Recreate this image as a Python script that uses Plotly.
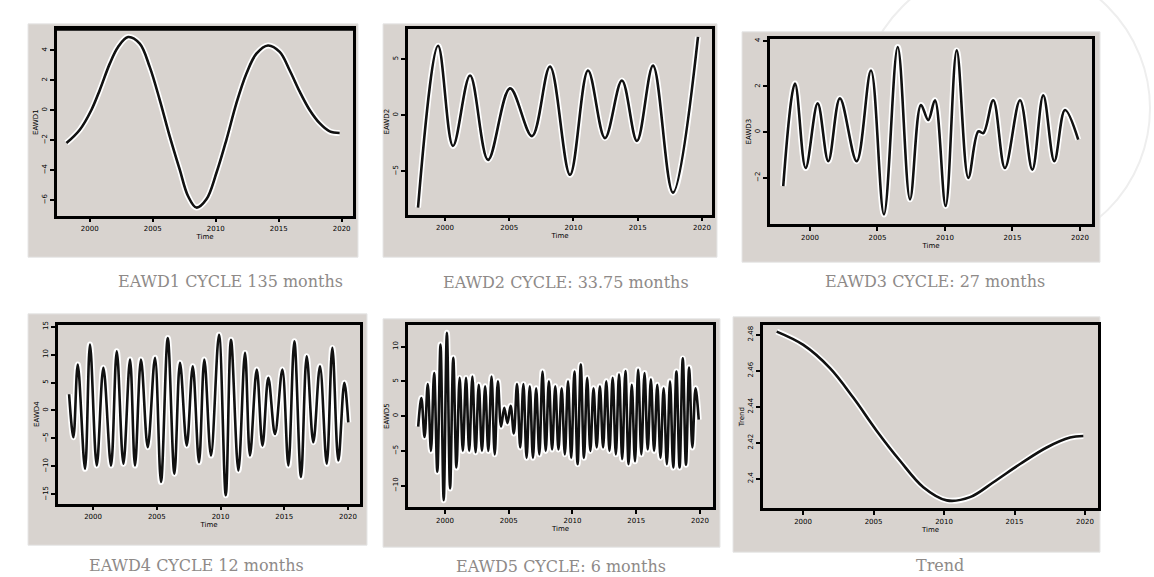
import plotly.graph_objects as go

# ---------------- data ----------------
x_ticks = [2000, 2005, 2010, 2015, 2020]
x_tick_text = ["2000", "2005", "2010", "2015", "2020"]

# EAWD1 : 135-month cycle
eawd1_t = [1998.15, 1999.21, 2000.13, 2000.79, 2001.59, 2002.25, 2003.04, 2003.97,
           2004.76, 2005.56, 2006.35, 2007.14, 2007.80, 2008.47, 2009.26, 2010.06,
           2010.85, 2011.64, 2012.44, 2013.23, 2014.15, 2015.08, 2015.87, 2016.67,
           2017.46, 2018.25, 2019.05, 2019.84]
eawd1_v = [-2.19, -1.30, 0.02, 1.34, 3.11, 4.22, 4.88, 4.44,
           2.89, 0.68, -1.74, -3.95, -5.72, -6.49, -5.94, -4.17,
           -1.97, 0.46, 2.45, 3.77, 4.32, 3.89, 2.67, 1.24,
           0.02, -0.86, -1.41, -1.52]

# EAWD2 : 33.75-month cycle
eawd2_t = [1997.90, 1999.46, 2000.62, 2001.95, 2003.35, 2005.06, 2006.77, 2008.17,
           2009.73, 2011.13, 2012.45, 2013.77, 2014.94, 2016.19, 2017.74, 2019.69]
eawd2_v = [-8.23, 6.19, -2.74, 3.54, -3.98, 2.39, -1.86, 4.34,
           -5.31, 3.98, -2.04, 3.10, -2.30, 4.42, -6.90, 6.99]

# EAWD3 : 27-month cycle
eawd3_t = [1998.02, 1998.89, 1999.68, 2000.57, 2001.36, 2002.22, 2003.46, 2004.52,
           2005.48, 2006.50, 2007.41, 2008.22, 2008.76, 2009.26, 2010.05, 2010.87,
           2011.73, 2012.47, 2012.84, 2013.58, 2014.44, 2015.56, 2016.47, 2017.28,
           2018.10, 2018.89, 2019.87]
eawd3_v = [-2.36, 2.13, -1.57, 1.26, -1.27, 1.48, -1.27, 2.70,
           -3.60, 3.73, -2.94, 1.19, 0.53, 1.40, -3.23, 3.58,
           -2.00, 0.03, -0.04, 1.40, -1.57, 1.40, -1.64, 1.62,
           -1.27, 0.97, -0.33]

# EAWD4 : 12-month cycle
eawd4_t = [1998.12, 1998.46, 1998.80, 1999.37, 1999.76, 2000.29, 2000.81, 2001.41,
           2001.86, 2002.38, 2002.90, 2003.29, 2003.76, 2004.29, 2004.86, 2005.33,
           2005.86, 2006.38, 2006.82, 2007.35, 2007.82, 2008.31, 2008.73, 2009.25,
           2009.88, 2010.41, 2010.82, 2011.40, 2011.92, 2012.31, 2012.84, 2013.29,
           2013.75, 2014.27, 2014.85, 2015.32, 2015.79, 2016.31, 2016.76, 2017.28,
           2017.80, 2018.33, 2018.77, 2019.24, 2019.71, 2020.02]
eawd4_v = [2.90, -4.80, 8.22, -10.43, 11.78, -9.84, 7.64, -9.84,
           10.59, -9.54, 9.11, -9.84, 9.11, -6.57, 9.41, -12.79,
           12.97, -11.31, 8.53, -6.28, 7.92, -9.24, 9.11, -8.06,
           13.55, -15.17, 12.66, -10.73, 10.30, -8.06, 7.34, -6.28,
           5.86, -4.21, 7.34, -9.84, 12.36, -11.90, 9.70, -5.68,
           7.92, -9.54, 11.19, -8.95, 4.97, -2.13]

# EAWD5 : 6-month cycle (turning points, one every quarter year from 1997.9)
eawd5_start = 1997.9
eawd5_step = 0.25
eawd5_v = [-1.5, 2.6, -3.0, 4.6, -5.0, 6.2, -8.0, 10.3, -12.1, 12.0,
           -10.4, 8.4, -7.4, 5.5, -5.0, 5.5, -5.0, 5.7, -5.2, 4.5,
           -5.0, 4.3, -5.0, 5.7, -5.5, 5.0, -1.5, 1.2, -1.0, 1.5,
           -2.5, 4.6, -4.5, 4.6, -6.0, 4.3, -6.0, 4.0, -5.5, 6.4,
           -5.0, 5.0, -4.8, 4.3, -4.8, 4.0, -5.5, 5.0, -6.0, 6.4,
           -6.9, 7.4, -6.0, 5.5, -5.0, 4.0, -4.5, 4.3, -4.5, 5.0,
           -5.0, 5.5, -5.5, 6.0, -6.2, 6.5, -6.9, 4.5, -6.5, 6.7,
           -5.5, 6.2, -4.8, 5.3, -5.0, 4.5, -6.0, 4.0, -6.9, 5.0,
           -7.4, 6.4, -7.4, 8.3, -7.0, 7.0, -4.5, 4.0, -0.5]
eawd5_t = [eawd5_start + eawd5_step * k for k in range(len(eawd5_v))]

# Trend
trend_t = [1998.13, 2000.02, 2001.91, 2003.57, 2005.23, 2006.88, 2008.53,
           2010.19, 2011.84, 2013.50, 2015.39, 2017.28, 2018.94, 2019.88]
trend_v = [2.4817, 2.4743, 2.4614, 2.4449, 2.4265, 2.4099, 2.3952,
           2.3879, 2.3897, 2.3980, 2.4081, 2.4173, 2.4228, 2.4237]

y_titles = ["EAWD1", "EAWD2", "EAWD3", "EAWD4", "EAWD5", "Trend"]
captions = ["EAWD1 CYCLE 135 months", "EAWD2 CYCLE: 33.75 months", "EAWD3 CYCLE: 27 months",
            "EAWD4 CYCLE 12 months", "EAWD5 CYCLE: 6 months", "Trend"]
y_ticks = [[4, 2, 0, -2, -4, -6], [5, 0, -5], [4, 2, 0, -2],
           [15, 10, 5, 0, -5, -10, -15], [10, 5, 0, -5, -10],
           [2.48, 2.46, 2.44, 2.42, 2.40]]

series = [(eawd1_t, eawd1_v), (eawd2_t, eawd2_v), (eawd3_t, eawd3_v),
          (eawd4_t, eawd4_v), (eawd5_t, eawd5_v), (trend_t, trend_v)]

# ---------------- layout (pixel geometry) ----------------
W, H = 1154, 577
GRAY = "#d8d3cf"

# inner plot boxes: (left, right, top, bottom) in pixels
inner = [(57, 353, 25, 213), (408, 712, 25, 212), (770, 1092, 35, 222),
         (58, 360, 323, 503), (408, 713, 323, 507), (763, 1098, 323, 508)]
# outer gray boxes
outer = [(28, 358, 20, 255), (383, 717, 20, 255), (742, 1100, 28, 260),
         (28, 367, 312, 545), (383, 720, 317, 547), (733, 1100, 315, 552)]
x_ranges = [[1997.4, 2020.9], [1997.12, 2020.78], [1997.04, 2020.89],
            [1997.25, 2020.94], [1997.10, 2021.02], [1997.16, 2020.92]]
y_ranges = [[-7.02, 5.43], [-8.85, 7.70], [-4.04, 4.09],
            [-16.64, 15.33], [-13.14, 13.14], [2.3834, 2.4855]]
caption_pos = [(230, 279), (566, 280), (935, 279), (196, 565), (561, 566), (940, 565)]


def px_dom_x(a, b):
    return [a / W, b / W]


def px_dom_y(top, bottom):
    return [1 - bottom / H, 1 - top / H]


fig = go.Figure()
layout = dict(width=W, height=H, margin=dict(l=0, r=0, t=0, b=0),
              paper_bgcolor="white", plot_bgcolor=GRAY, showlegend=False)
shapes = []
annotations = []

# faint watermark arcs in the background
shapes.append(dict(type="circle", xref="paper", yref="paper", layer="below",
                   x0=860 / W, x1=1150 / W, y0=1 - 250 / H, y1=1 - (-40) / H,
                   line=dict(color="#eeeeee", width=2)))

for i, (xs, ys) in enumerate(series):
    sfx = "" if i == 0 else str(i + 1)
    fig.add_trace(go.Scatter(x=xs, y=ys, xaxis="x" + sfx, yaxis="y" + sfx, mode="lines",
                             line=dict(color="white", width=6, shape="spline"),
                             hoverinfo="skip"))
    fig.add_trace(go.Scatter(x=xs, y=ys, xaxis="x" + sfx, yaxis="y" + sfx, mode="lines",
                             line=dict(color="#111111", width=2.6, shape="spline")))
    l, r, t, b = inner[i]
    tickfont = dict(size=7, family="DejaVu Sans", color="black")
    layout["xaxis" + sfx] = dict(
        domain=px_dom_x(l, r), range=x_ranges[i], anchor="y" + sfx,
        tickvals=x_ticks, ticktext=x_tick_text, ticks="outside", ticklen=4,
        tickwidth=1.5, tickcolor="black", showline=True, mirror=True,
        linecolor="black", linewidth=2.5, showgrid=False, zeroline=False,
        tickfont=tickfont,
        title=dict(text="Time", font=dict(size=7, family="DejaVu Sans", color="black"), standoff=3))
    layout["yaxis" + sfx] = dict(
        domain=px_dom_y(t, b), range=y_ranges[i], anchor="x" + sfx,
        tickvals=y_ticks[i], ticks="outside", ticklen=4, tickwidth=1.5,
        tickcolor="black", showline=True, mirror=True, linecolor="black",
        linewidth=2.5, showgrid=False, zeroline=False, tickangle=-90,
        tickfont=tickfont,
        title=dict(text=y_titles[i], font=dict(size=7, family="DejaVu Sans", color="black"), standoff=2))
    ol, orr, ot, ob = outer[i]
    shapes.append(dict(type="rect", xref="paper", yref="paper", layer="below",
                       x0=ol / W, x1=orr / W, y0=1 - ob / H, y1=1 - ot / H,
                       fillcolor=GRAY, line=dict(color="#e6e6e6", width=1)))
    cx, cy = caption_pos[i]
    annotations.append(dict(text=captions[i], xref="paper", yref="paper",
                            x=cx / W, y=1 - cy / H, xanchor="center", yanchor="middle",
                            showarrow=False,
                            font=dict(family="DejaVu Serif", size=16, color="#8e8a88")))

# heavier top frame line of the first panel
shapes.append(dict(type="line", xref="paper", yref="paper",
                   x0=57 / W, x1=353 / W, y0=1 - 25 / H, y1=1 - 25 / H,
                   line=dict(color="black", width=4)))

layout["shapes"] = shapes
layout["annotations"] = annotations
fig.update_layout(**layout)
fig.write_html("out.html")
